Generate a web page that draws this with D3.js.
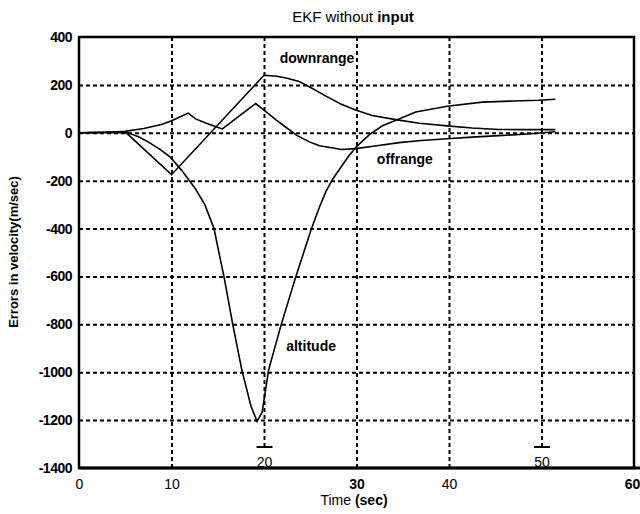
<!DOCTYPE html>
<html>
<head>
<meta charset="utf-8">
<script src="https://cdn.jsdelivr.net/npm/d3@7"></script>
<style>
  body { margin: 0; background: #fff; }
  svg { font-family: "Liberation Sans", Arial, sans-serif; }
  .grid line { stroke: #000; stroke-width: 2; stroke-dasharray: 4,3; }
  .grid path { display: none; }
  .curve { fill: none; stroke: #000; stroke-width: 1.6; }
</style>
</head>
<body>
<div id="container"></div>
<script>
const xTicks = [0, 10, 20, 30, 40, 50, 60],
  yTicks = [400, 200, 0, -200, -400, -600, -800, -1000, -1200, -1400],
  tDown = [0, 2, 5, 10, 20, 21.4, 22.5, 23.8, 25, 26.7, 28.3, 29.9, 31.7, 34.4, 36.8, 39.8, 42.5, 45.4, 48.5, 51.5],
  downrange = [0, 2, 4, -175, 240, 236, 228, 214, 190, 153, 120, 95, 72, 54, 40, 29, 20, 14, 13, 13],
  tOff = [0, 3, 5, 7, 9, 10, 11.8, 12.6, 13.7, 14.8, 15.5, 17.3, 19.1, 20.2, 21.3, 22.4, 23.6, 24.9, 26, 28.4, 29.9, 32, 34.6, 37, 39.8, 42.5, 45.4, 48.5, 51.5],
  offrange = [0, 2, 6, 18, 36, 50, 82, 58, 41, 25, 16, 70, 122, 88, 54, 22, -12, -38, -54, -70, -66, -55, -41, -32, -25, -18, -12, -5, 4],
  tAlt = [0, 5, 5.5, 6.5, 7.6, 8.8, 9.9, 11.1, 12.6, 13.6, 14.6, 15.1, 15.7, 16.6, 17.6, 18.6, 19.25, 19.8, 20.5, 21.9, 23.4, 25.1, 26, 26.7, 27.4, 28.2, 29.1, 30, 31.4, 32.8, 34.4, 36.4, 39.8, 43.6, 47, 49.7, 51.5],
  altitude = [0, 0, -3, -18, -41, -70, -103, -157, -235, -300, -400, -495, -606, -796, -990, -1143, -1205, -1167, -990, -796, -606, -404, -310, -245, -195, -150, -100, -58, -8, 29, 54, 87, 111, 128, 133, 136, 140],
  labels = [
    {text: 'downrange', t: 21.7, v: 290},
    {text: 'offrange', t: 32.2, v: -130},
    {text: 'altitude', t: 22.4, v: -910}
  ];

const dims = {width: 640, height: 514, left: 79, right: 634, top: 37, bottom: 468};

const x = d3.scaleLinear().domain([0, 60]).range([dims.left, dims.right]),
  y = d3.scaleLinear().domain([-1400, 400]).range([dims.bottom, dims.top]);

const svg = d3.select('#container')
  .append('svg')
    .attr('width', dims.width)
    .attr('height', dims.height);

// horizontal grid + y tick labels
const yAxis = svg.append('g')
  .attr('class', 'grid')
  .attr('transform', `translate(${dims.left},0)`)
  .call(d3.axisLeft(y)
    .tickValues(yTicks)
    .tickSize(-(dims.right - dims.left))
    .tickPadding(7)
    .tickFormat(d => String(d)));
yAxis.selectAll('.tick line').filter(d => d == 400 || d == -1400).remove();
yAxis.selectAll('text')
  .attr('fill', '#000')
  .style('font-size', '14px')
  .style('font-weight', 'bold')
  .style('letter-spacing', '-0.5px');

// vertical grid + x tick labels
const xAxis = svg.append('g')
  .attr('class', 'grid')
  .attr('transform', `translate(0,${dims.bottom})`)
  .call(d3.axisBottom(x)
    .tickValues(xTicks)
    .tickSize(-(dims.bottom - dims.top))
    .tickPadding(11));
xAxis.selectAll('.tick line').filter(d => d == 0 || d == 60).remove();
xAxis.selectAll('text')
  .attr('fill', '#000')
  .style('font-size', '14px')
  .style('font-weight', d => (d == 30 || d == 60) ? 'bold' : 'normal');
// the 20 and 50 labels sit above the axis with a bar on top
xAxis.selectAll('.tick').filter(d => d == 20 || d == 50)
  .each(function() {
    const g = d3.select(this);
    g.select('line').attr('y1', -21);
    g.select('text').attr('y', -11);
    g.append('line')
      .attr('x1', -8).attr('x2', 8)
      .attr('y1', -21).attr('y2', -21)
      .style('stroke-dasharray', 'none');
  });
xAxis.selectAll('.tick').filter(d => d == 60).select('text').attr('x', -2);

// frame
svg.append('rect')
  .attr('x', dims.left)
  .attr('y', dims.top)
  .attr('width', dims.right - dims.left)
  .attr('height', dims.bottom - dims.top)
  .attr('fill', 'none')
  .attr('stroke', '#000')
  .attr('stroke-width', 2.5);
svg.append('line')
  .attr('x1', dims.left).attr('x2', 640)
  .attr('y1', dims.bottom).attr('y2', dims.bottom)
  .attr('stroke', '#000')
  .attr('stroke-width', 3);

// curves
const line = d3.line()
  .x(d => x(d[0]))
  .y(d => y(d[1]));

[[tDown, downrange], [tOff, offrange], [tAlt, altitude]].forEach(([t, v]) => {
  svg.append('path')
    .datum(t.map((d, i) => [d, v[i]]))
    .attr('class', 'curve')
    .attr('d', line);
});

svg.selectAll('.series-label')
  .data(labels)
  .enter()
  .append('text')
    .attr('class', 'series-label')
    .attr('x', d => x(d.t))
    .attr('y', d => y(d.v))
    .style('font-size', '14px')
    .style('font-weight', 'bold')
    .text(d => d.text);

// title
const title = svg.append('text')
  .attr('x', 353)
  .attr('y', 22)
  .attr('text-anchor', 'middle')
  .style('font-size', '15px');
title.append('tspan').text('EKF without ');
title.append('tspan').style('font-weight', 'bold').text('input');

// axis titles
const xt = svg.append('text')
  .attr('x', 354)
  .attr('y', 505)
  .attr('text-anchor', 'middle')
  .style('font-size', '14px');
xt.append('tspan').text('Time ');
xt.append('tspan').style('font-weight', 'bold').text('(sec)');

svg.append('text')
  .attr('transform', 'translate(18,252) rotate(-90)')
  .attr('text-anchor', 'middle')
  .style('font-size', '13px')
  .style('font-weight', 'bold')
  .text('Errors in velocity(m/sec)');
</script>
</body>
</html>
